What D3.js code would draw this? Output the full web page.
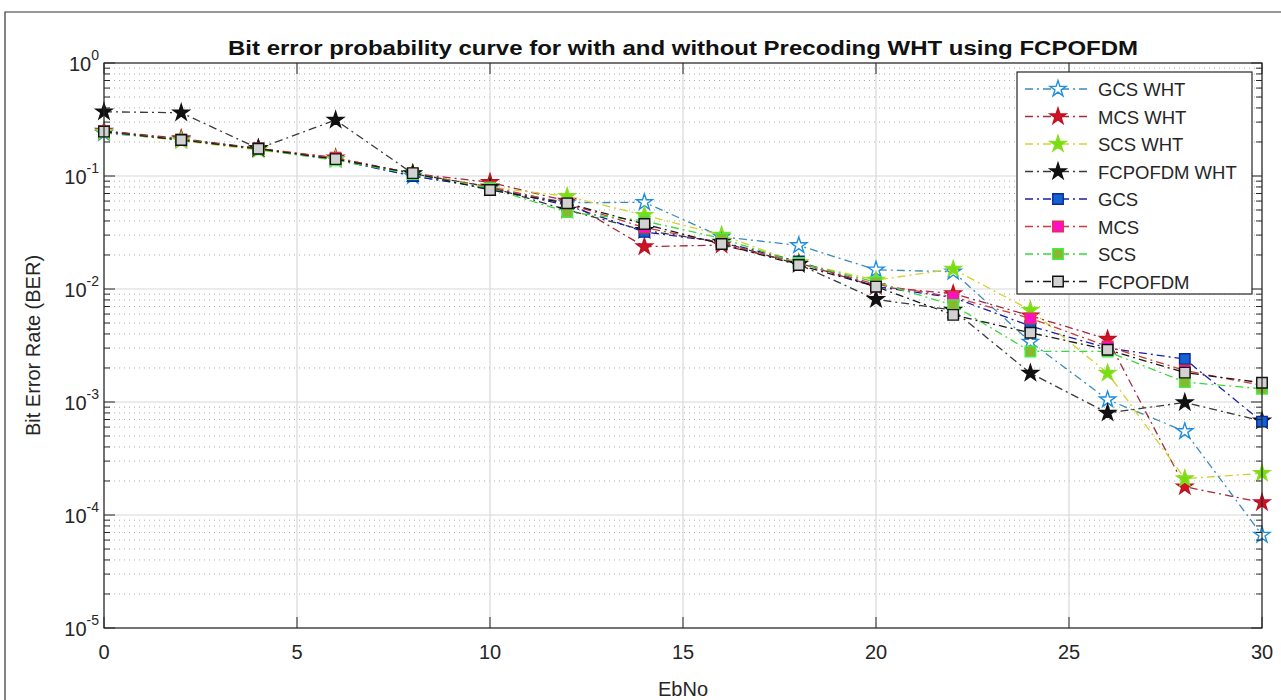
<!DOCTYPE html>
<html>
<head>
<meta charset="utf-8">
<script src="https://cdn.jsdelivr.net/npm/d3@7"></script>
<style>
  body { margin: 0; background: #fff; }
  svg { display: block; font-family: "Liberation Sans", Arial, Helvetica, sans-serif; }
</style>
</head>
<body>
<svg id="chart" width="1281" height="700"></svg>
<script>
const ebno = [0, 2, 4, 6, 8, 10, 12, 14, 16, 18, 20, 22, 24, 26, 28, 30];

const gcsWht     = [0.24, 0.21, 0.175, 0.14, 0.10, 0.078, 0.058, 0.0585, 0.029, 0.0243, 0.0148, 0.0142, 0.0034, 0.00105, 0.00055, 0.0000665];
const mcsWht     = [0.25, 0.215, 0.175, 0.145, 0.105, 0.088, 0.060, 0.0237, 0.0245, 0.017, 0.0105, 0.0091, 0.0058, 0.0036, 0.000178, 0.000129];
const scsWht     = [0.245, 0.205, 0.170, 0.140, 0.105, 0.080, 0.066, 0.045, 0.030, 0.017, 0.012, 0.015, 0.0065, 0.0018, 0.00021, 0.000234];
const fcpofdmWht = [0.37, 0.363, 0.175, 0.313, 0.105, 0.080, 0.050, 0.033, 0.026, 0.0165, 0.0081, 0.0065, 0.0018, 0.0008, 0.00099, 0.00068];
const gcs        = [0.25, 0.21, 0.175, 0.14, 0.10, 0.078, 0.055, 0.032, 0.026, 0.0175, 0.0105, 0.0084, 0.0047, 0.0030, 0.0024, 0.00067];
const mcs        = [0.25, 0.21, 0.175, 0.145, 0.105, 0.080, 0.057, 0.035, 0.0255, 0.017, 0.011, 0.0085, 0.0055, 0.0031, 0.0019, 0.0014];
const scs        = [0.245, 0.21, 0.172, 0.138, 0.104, 0.078, 0.048, 0.040, 0.028, 0.017, 0.0115, 0.0072, 0.0028, 0.0028, 0.0015, 0.00131];
const fcpofdm    = [0.247, 0.208, 0.174, 0.141, 0.106, 0.0752, 0.0573, 0.0376, 0.025, 0.0163, 0.0105, 0.0059, 0.0041, 0.0029, 0.00182, 0.00148];

const seriesNames = ["GCS WHT", "MCS WHT", "SCS WHT", "FCPOFDM WHT", "GCS", "MCS", "SCS", "FCPOFDM"];
const seriesValues = [gcsWht, mcsWht, scsWht, fcpofdmWht, gcs, mcs, scs, fcpofdm];

const xTicks = [0, 5, 10, 15, 20, 25, 30];
const yExponents = [0, -1, -2, -3, -4, -5];

const titleText = "Bit error probability curve for with and without Precoding WHT using FCPOFDM";
const xLabel = "EbNo";
const yLabel = "Bit Error Rate (BER)";

// styles (kept separately from data)
const styles = [
  { marker: "star",   line: "#3a8bb8", fill: "#ffffff", stroke: "#1e8ee0" },
  { marker: "star",   line: "#a52a3c", fill: "#d01426", stroke: "#c01020" },
  { marker: "star",   line: "#d2d22a", fill: "#77dd11", stroke: "#88dd22" },
  { marker: "star",   line: "#3a3a3a", fill: "#111111", stroke: "#111111" },
  { marker: "square", line: "#1c1ca8", fill: "#1462d2", stroke: "#0a2a9a" },
  { marker: "square", line: "#d03a3a", fill: "#ff10c8", stroke: "#e0304a" },
  { marker: "square", line: "#3ad83a", fill: "#86b830", stroke: "#44ee44" },
  { marker: "square", line: "#1a1a1a", fill: "#d2d2d2", stroke: "#111111" }
];

const svg = d3.select("#chart");
const L = 104, R = 1262, T = 63, B = 628;

const x = d3.scaleLinear().domain([0, 30]).range([L, R]);
const y = d3.scaleLog().domain([1e-5, 1]).range([B, T]);

// outer figure frame
svg.append("path").attr("d", `M5,705 L5,12 L1290,12`).attr("fill", "none").attr("stroke", "#333").attr("stroke-width", 1.2);

// plot background
svg.append("rect").attr("x", L).attr("y", T).attr("width", R - L).attr("height", B - T).attr("fill", "#fff");

const grid = svg.append("g");
// minor horizontal dotted grid
for (let e = -5; e < 0; e++) {
  for (let m = 2; m <= 9; m++) {
    const v = m * Math.pow(10, e);
    grid.append("line").attr("x1", L).attr("x2", R).attr("y1", y(v)).attr("y2", y(v))
      .attr("stroke", "#acacac").attr("stroke-width", 1).attr("stroke-dasharray", "1,4");
  }
}
// major grid
yExponents.forEach(e => {
  grid.append("line").attr("x1", L).attr("x2", R).attr("y1", y(Math.pow(10, e))).attr("y2", y(Math.pow(10, e)))
    .attr("stroke", "#d8d8d8").attr("stroke-width", 1.2);
});
xTicks.forEach(t => {
  grid.append("line").attr("x1", x(t)).attr("x2", x(t)).attr("y1", T).attr("y2", B)
    .attr("stroke", "#d8d8d8").attr("stroke-width", 1.2);
});

// series
const lineGen = d3.line().x(d => x(d[0])).y(d => y(d[1]));
const starSym = d3.symbol().type(d3.symbolStar).size(80);
const sqSym = d3.symbol().type(d3.symbolSquare).size(110);

const plot = svg.append("g");
seriesValues.forEach((vals, i) => {
  const st = styles[i];
  const pts = ebno.map((e, j) => [e, vals[j]]);
  plot.append("path").datum(pts).attr("d", lineGen).attr("fill", "none")
    .attr("stroke", st.line).attr("stroke-width", 1.3).attr("stroke-dasharray", "8,4,2,4");
  plot.selectAll(null).data(pts).enter().append("path")
    .attr("d", st.marker === "star" ? starSym() : sqSym())
    .attr("transform", d => `translate(${x(d[0])},${y(d[1])})`)
    .attr("fill", st.fill).attr("stroke", st.stroke).attr("stroke-width", 1.4);
});

// axes box & ticks
const axisColor = "#262626";
const ax = svg.append("g");
ax.append("rect").attr("x", L).attr("y", T).attr("width", R - L).attr("height", B - T)
  .attr("fill", "none").attr("stroke", axisColor).attr("stroke-width", 1.2);

xTicks.forEach(t => {
  ax.append("line").attr("x1", x(t)).attr("x2", x(t)).attr("y1", B).attr("y2", B - 11).attr("stroke", axisColor);
  ax.append("line").attr("x1", x(t)).attr("x2", x(t)).attr("y1", T).attr("y2", T + 11).attr("stroke", axisColor);
  ax.append("text").attr("x", x(t)).attr("y", 659).attr("text-anchor", "middle")
    .attr("font-size", 20).attr("fill", axisColor).text(t);
});

yExponents.forEach(e => {
  const yy = y(Math.pow(10, e));
  const tx = ax.append("text").attr("x", 99).attr("y", yy + 8).attr("text-anchor", "end")
    .attr("font-size", 20).attr("fill", axisColor);
  tx.append("tspan").text("10");
  tx.append("tspan").attr("dy", -11).attr("font-size", 14).text(String(e));
  ax.append("line").attr("x1", L).attr("x2", L + 11).attr("y1", yy).attr("y2", yy).attr("stroke", axisColor);
  ax.append("line").attr("x1", R).attr("x2", R - 11).attr("y1", yy).attr("y2", yy).attr("stroke", axisColor);
});
for (let e = -5; e < 0; e++) {
  for (let m = 2; m <= 9; m++) {
    const yy = y(m * Math.pow(10, e));
    ax.append("line").attr("x1", L).attr("x2", L + 6).attr("y1", yy).attr("y2", yy).attr("stroke", axisColor);
    ax.append("line").attr("x1", R).attr("x2", R - 6).attr("y1", yy).attr("y2", yy).attr("stroke", axisColor);
  }
}

// title and labels
svg.append("text").attr("x", (L + R) / 2).attr("y", 55).attr("text-anchor", "middle")
  .attr("font-size", 20).attr("font-weight", "bold").attr("fill", "#111")
  .attr("textLength", 910).attr("lengthAdjust", "spacingAndGlyphs").text(titleText);
svg.append("text").attr("x", (L + R) / 2).attr("y", 696).attr("text-anchor", "middle")
  .attr("font-size", 20).attr("fill", axisColor).text(xLabel);
svg.append("text").attr("transform", `translate(40,${(T + B) / 2}) rotate(-90)`).attr("text-anchor", "middle")
  .attr("font-size", 20).attr("fill", axisColor).text(yLabel);

// legend
const lg = svg.append("g");
const lgX = 1017, lgY = 72, lgW = 235, lgH = 222, rowH = 27.5;
lg.append("rect").attr("x", lgX).attr("y", lgY).attr("width", lgW).attr("height", lgH)
  .attr("fill", "#fff").attr("stroke", axisColor).attr("stroke-width", 1.2);
seriesNames.forEach((name, i) => {
  const st = styles[i];
  const cy = lgY + 17 + i * rowH;
  lg.append("line").attr("x1", 1025).attr("x2", 1091).attr("y1", cy).attr("y2", cy)
    .attr("stroke", st.line).attr("stroke-width", 1.3).attr("stroke-dasharray", "8,4,2,4");
  lg.append("path").attr("d", st.marker === "star" ? starSym() : sqSym())
    .attr("transform", `translate(1058,${cy})`)
    .attr("fill", st.fill).attr("stroke", st.stroke).attr("stroke-width", 1.4);
  lg.append("text").attr("x", 1098).attr("y", cy + 7).attr("font-size", 18.5)
    .attr("fill", axisColor).text(name);
});
</script>
</body>
</html>
